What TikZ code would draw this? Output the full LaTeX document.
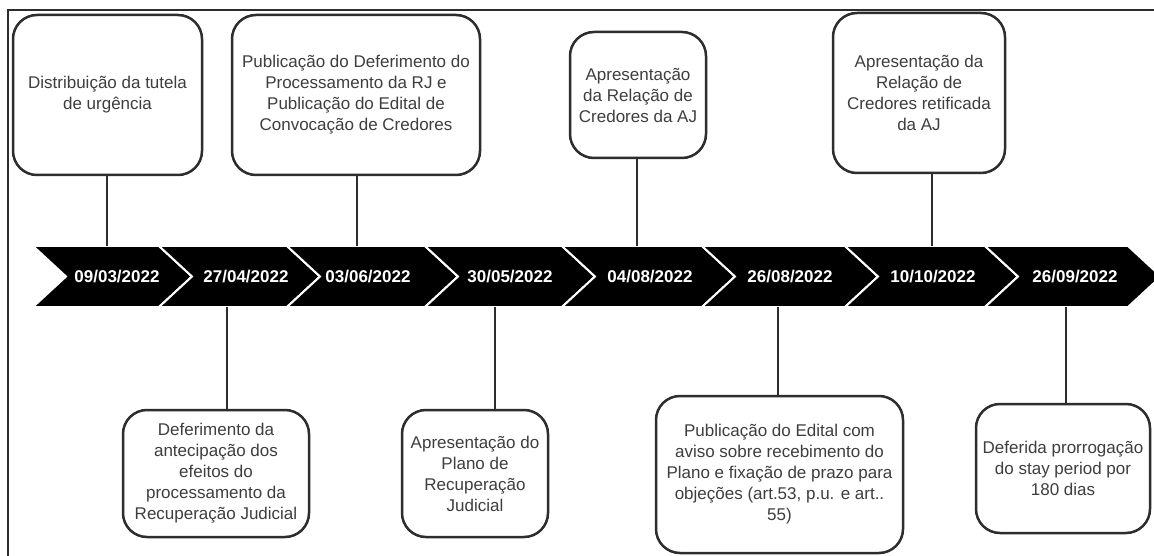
\documentclass[tikz,border=0pt]{standalone}
\usepackage{fontspec}
\setmainfont{Liberation Sans}
\definecolor{boxline}{RGB}{45,45,45}
\definecolor{txt}{RGB}{62,62,62}
\begin{document}
\begin{tikzpicture}[x=1pt,y=-1pt,
  evbox/.style={draw=boxline, line width=2.5pt, rounded corners=24pt, fill=white, align=center, text=txt, font=\fontsize{17}{21}\selectfont, inner sep=2pt},
  datelbl/.style={text=white, font=\bfseries\fontsize{17}{20}\selectfont, inner sep=0pt},
  chev/.style={fill=black, draw=white, line width=2pt, line join=miter},
  conn/.style={draw=boxline, line width=1.5pt}]
\useasboundingbox (0,0) rectangle (1154,556);
\clip (0,0) rectangle (1154,556);
\fill[white] (0,0) rectangle (1154,556);
\draw[boxline, line width=1.8pt] (8,570) -- (8,10) -- (1170,10);

% chevron band
\foreach \a/\b in {66/192,192/320,320/458,458/595,595/735,735/878,878/1018,1018/1161}
  \draw[chev] ({\a-33},246) -- ({\b-33},246) -- (\b,276.5) -- ({\b-33},307) -- ({\a-33},307) -- (\a,276.5) -- cycle;

% dates
\node[datelbl] (d1) at (117,276.5) {09/03/2022};
\node[datelbl] (d2) at (246,276.5) {27/04/2022};
\node[datelbl] (d3) at (368,276.5) {03/06/2022};
\node[datelbl] (d4) at (510,276.5) {30/05/2022};
\node[datelbl] (d5) at (650,276.5) {04/08/2022};
\node[datelbl] (d6) at (790,276.5) {26/08/2022};
\node[datelbl] (d7) at (933,276.5) {10/10/2022};
\node[datelbl] (d8) at (1075,276.5) {26/09/2022};

% top boxes
\node[evbox, minimum width=189pt, minimum height=160pt] (b1) at (107.5,95) {Distribuição da tutela\\de urgência};
\node[evbox, minimum width=248pt, minimum height=160pt] (b2) at (356,95) {Publicação do Deferimento do\\Processamento da RJ e\\Publicação do Edital de\\Convocação de Credores};
\node[evbox, minimum width=136pt, minimum height=126pt] (b3) at (638,95) {Apresentação\\da Relação de\\Credores da AJ};
\node[evbox, minimum width=172pt, minimum height=160pt] (b4) at (919,93) {Apresentação da\\Relação de\\Credores retificada\\da AJ};

% bottom boxes
\node[evbox, minimum width=186pt, minimum height=127pt] (b5) at (216,473.5) {Deferimento da\\antecipação dos\\efeitos do\\processamento da\\Recuperação Judicial};
\node[evbox, minimum width=146pt, minimum height=127pt] (b6) at (475,473.5) {Apresentação do\\Plano de\\Recuperação\\Judicial};
\node[evbox, minimum width=247pt, minimum height=157pt] (b7) at (779.5,474.5) {Publicação do Edital com\\aviso sobre recebimento do\\Plano e fixação de prazo para\\objeções (art.53, p.u. e art..\\55)};
\node[evbox, minimum width=174pt, minimum height=129pt] (b8) at (1063,468.5) {Deferida prorrogação\\do stay period por\\180 dias};

% connector end points on the band
\coordinate (t1) at (107,246);
\coordinate (t2) at (357,246);
\coordinate (t3) at (637,246);
\coordinate (t4) at (932,246);
\coordinate (s1) at (227,307);
\coordinate (s2) at (495,307);
\coordinate (s3) at (778,307);
\coordinate (s4) at (1066,307);

\draw[conn] (t1) -- (t1 |- b1.south);
\draw[conn] (t2) -- (t2 |- b2.south);
\draw[conn] (t3) -- (t3 |- b3.south);
\draw[conn] (t4) -- (t4 |- b4.south);
\draw[conn] (s1) -- (s1 |- b5.north);
\draw[conn] (s2) -- (s2 |- b6.north);
\draw[conn] (s3) -- (s3 |- b7.north);
\draw[conn] (s4) -- (s4 |- b8.north);
\end{tikzpicture}
\end{document}
